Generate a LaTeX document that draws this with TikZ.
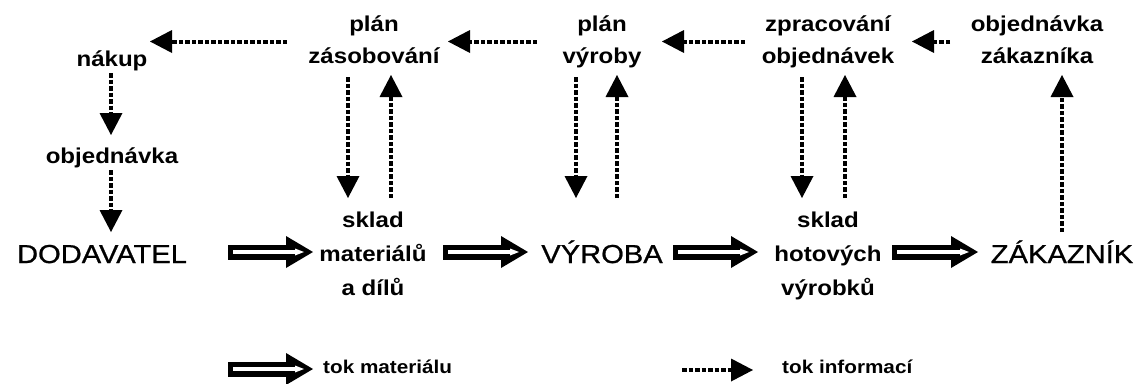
\documentclass[tikz,border=0pt]{standalone}
\usepackage{fontspec}
\newfontfamily\arialx[FakeStretch=1.12]{Liberation Sans}
\newfontfamily\arialbig[FakeStretch=1.12,FakeBold=0.8]{Liberation Sans}
\usetikzlibrary{arrows.meta,calc}
\tikzset{
 lbl/.style={font=\arialx\bfseries\fontsize{21.5}{32}\selectfont, align=center, inner sep=0pt},
 lblthree/.style={font=\arialx\bfseries\fontsize{21.5}{34}\selectfont, align=center, inner sep=0pt},
 big/.style={font=\arialbig\fontsize{26}{30}\selectfont, inner sep=0pt, anchor=base},
 legtext/.style={font=\arialx\bfseries\fontsize{18.5}{22}\selectfont, inner sep=0pt, anchor=base west},
 info/.style={line width=4pt, dash pattern=on 4.5pt off 2pt, -{Triangle[length=22pt,width=23pt,line width=0pt]}},
 mat/.style={line width=15pt, -{Triangle[length=27pt,width=32pt,line width=0pt]},
   postaction={draw, white, line width=3.5pt, shorten <=5pt, shorten >=9pt, -{Triangle[length=9pt,width=7pt,line width=0pt]}}},
}
\begin{document}
\begin{tikzpicture}[x=1pt,y=-1pt]
\fill[white] (0,0) rectangle (1142,383);
\useasboundingbox (0,0) rectangle (1142,383);

% top row
\node[lbl] (pz) at (374,41.5) {\strut plán\\\strut zásobování};
\node[lbl] (pv) at (602,41.5) {\strut plán\\\strut výroby};
\node[lbl] (zo) at (828,41.5) {\strut zpracování\\\strut objednávek};
\node[lbl] (oz) at (1037,41.5) {\strut objednávka\\\strut zákazníka};
\node[lbl, anchor=base] (nakup) at (112,66) {\strut nákup};
\node[lbl, anchor=base] (obj) at (112,163) {\strut objednávka};

% middle row
\node[big] (dod) at (102,263) {DODAVATEL};
\node[big] (vyr) at (602,263) {VÝROBA};
\node[big] (zak) at (1062,263) {ZÁKAZNÍK};
\node[lblthree] (sm) at (373,254.2) {\strut sklad\\\strut materiálů\\\strut a dílů};
\node[lblthree] (sh) at (828,254.2) {\strut sklad\\\strut hotových\\\strut výrobků};

% legend
\node[legtext] (lm) at (323,373) {tok materiálu};
\node[legtext] (li) at (782,373) {tok informací};

% information flow
\draw[info] ($(pz)+(-87,0)$) -- ($(nakup.center |- pz)+(38,0)$);
\draw[info] ($(pv)+(-65,0)$) -- ($(pz)+(74,0)$);
\draw[info] ($(zo)+(-83,0)$) -- ($(pv)+(60,0)$);
\draw[info] ($(oz)+(-87,0)$) -- ($(zo)+(84,0)$);

\draw[info] ($(nakup.base)+(-1,7)$) -- ($(obj.base)+(-1,-28)$);
\draw[info] ($(obj.base)+(-1,7)$) -- ($(dod.base)+(9,-31)$);

\draw[info] ($(pz)+(-26,35.5)$) -- ($(sm)+(-25,-56.2)$);
\draw[info] ($(sm)+(18,-56.2)$) -- ($(pz)+(17,33.5)$);
\draw[info] ($(pv)+(-26,35.5)$) -- ($(vyr.base)+(-26,-65)$);
\draw[info] ($(vyr.base)+(15,-65)$) -- ($(pv)+(15,33.5)$);
\draw[info] ($(zo)+(-26,35.5)$) -- ($(sh)+(-26,-56.2)$);
\draw[info] ($(sh)+(17,-56.2)$) -- ($(zo)+(17,33.5)$);
\draw[info] ($(zak.base)+(0,-31)$) -- ($(oz)+(25,33.5)$);

% material flow
\draw[mat] ($(dod.base)+(126,-11)$) -- ($(sm)+(-60,-2.2)$);
\draw[mat] ($(sm)+(70,-2.2)$) -- ($(vyr.base)+(-74,-11)$);
\draw[mat] ($(vyr.base)+(71,-11)$) -- ($(sh)+(-70,-2.2)$);
\draw[mat] ($(sh)+(64,-2.2)$) -- ($(zak.base)+(-84,-11)$);

% legend arrows
\draw[mat] ($(lm.base west)+(-95,-4)$) -- ($(lm.base west)+(-10,-4)$);
\draw[info] ($(li.base west)+(-100,-3)$) -- ($(li.base west)+(-29,-3)$);
\end{tikzpicture}
\end{document}
